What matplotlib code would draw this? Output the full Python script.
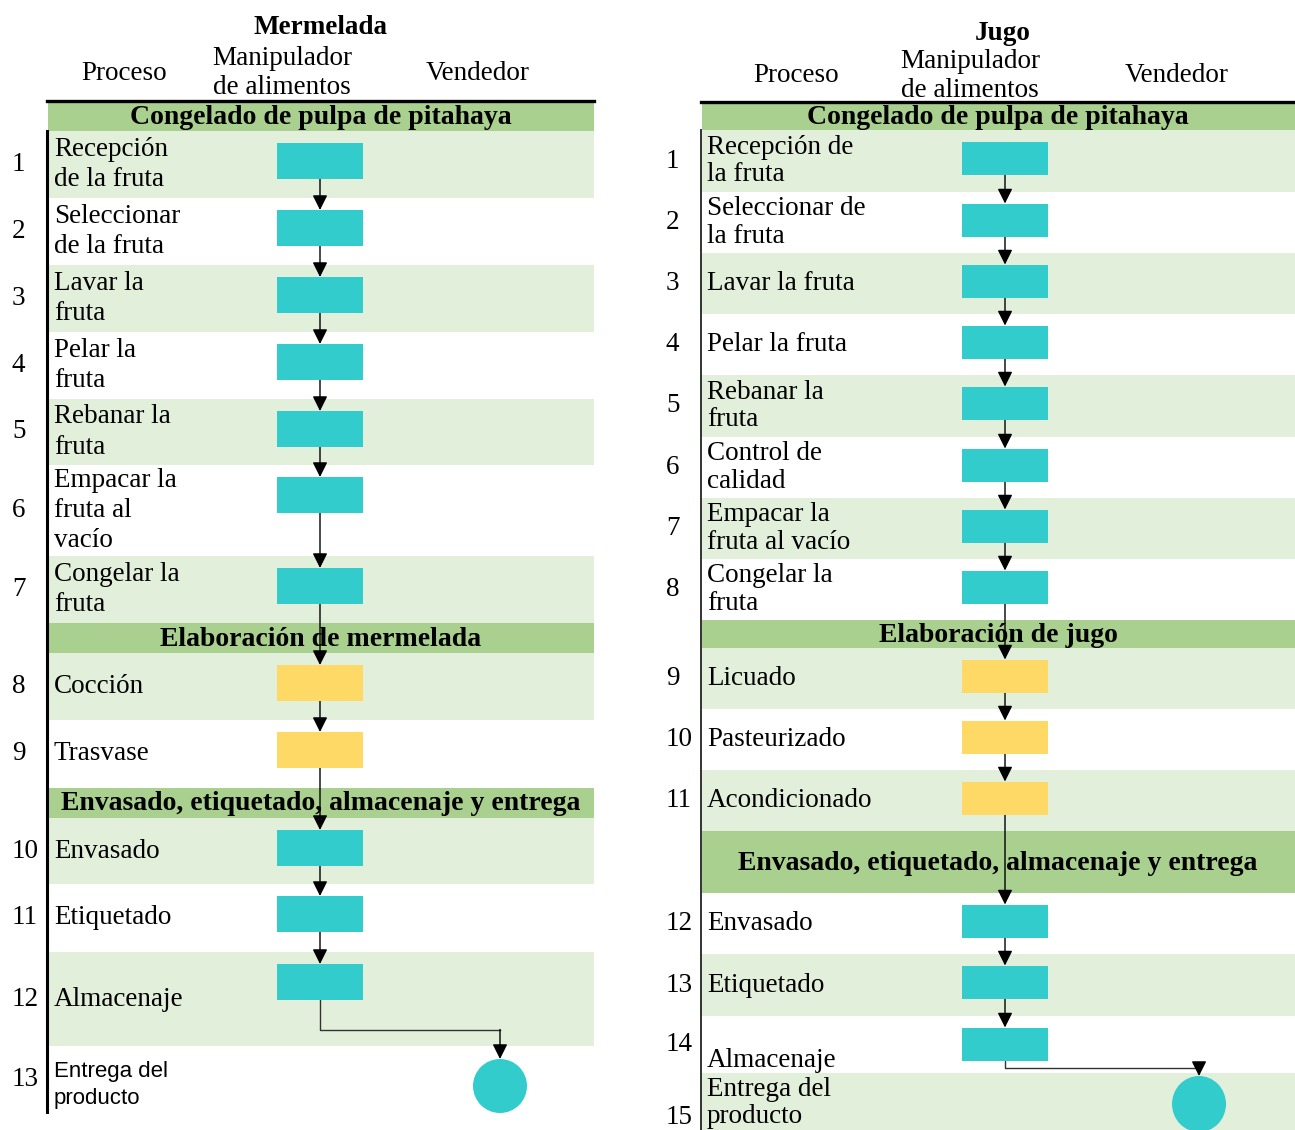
import matplotlib
matplotlib.use("Agg")
import matplotlib.pyplot as plt
from matplotlib.patches import Rectangle, Ellipse

# ---- datos ----
merm_title = "Mermelada"
merm_phases = ["Congelado de pulpa de pitahaya",
               "Elaboración de mermelada",
               "Envasado, etiquetado, almacenaje y entrega"]
merm_steps = ["Recepción\nde la fruta", "Seleccionar\nde la fruta", "Lavar la\nfruta",
              "Pelar la\nfruta", "Rebanar la\nfruta", "Empacar la\nfruta al\nvacío",
              "Congelar la\nfruta", "Cocción", "Trasvase", "Envasado", "Etiquetado",
              "Almacenaje", "Entrega del\nproducto"]
merm_phase = [0, 0, 0, 0, 0, 0, 0, 1, 1, 2, 2, 2, 2]
merm_actor = ["Manipulador"] * 12 + ["Vendedor"]

jugo_title = "Jugo"
jugo_phases = ["Congelado de pulpa de pitahaya",
               "Elaboración de jugo",
               "Envasado, etiquetado, almacenaje y entrega"]
jugo_steps = ["Recepción de\nla fruta", "Seleccionar de\nla fruta", "Lavar la fruta",
              "Pelar la fruta", "Rebanar la\nfruta", "Control de\ncalidad",
              "Empacar la\nfruta al vacío", "Congelar la\nfruta", "Licuado",
              "Pasteurizado", "Acondicionado", "Envasado", "Etiquetado",
              "Almacenaje", "Entrega del\nproducto"]
jugo_phase = [0] * 8 + [1] * 3 + [2] * 4
jugo_actor = ["Manipulador"] * 14 + ["Vendedor"]

lanes = ["Proceso", "Manipulador\nde alimentos", "Vendedor"]

# ---- estilo / layout ----
BAND = "#A9D08E"
ROW = "#E2EFDA"
BOX = ["#33CCCC", "#FFD966", "#33CCCC"]
SERIF = "Liberation Serif"
SANS = "Liberation Sans"
FS = 19.5
FS_BOLD = 20

left_layout = dict(
    x0=47, x1=594, top=102, sec_h=[29, 30, 30],
    row_h=[67, 67, 67, 67, 66, 91, 67, 67, 68, 66, 68, 94, 66],
    shade=[1, 0, 1, 0, 1, 0, 1, 1, 0, 1, 0, 1, 0],
    lane_x=[124, 282, 478], lane_y=73, title_xy=(320, 27),
    manip_x=320, vend_x=500, box_w=86, box_h=36, box_off=30, circ_off=40,
    circ_w=54, circ_h=54, num_x=12, text_x=54, linesp=1.28,
    text_dy={12: 6}, num_dy={}, sans_rows=[12], axis_lw=2.2, axis_color="black",
)
right_layout = dict(
    x0=701, x1=1295, top=103, sec_h=[27, 28, 62],
    row_h=[62, 61, 61, 61, 62, 61, 61, 61, 61, 61, 61, 61, 62, 57, 60],
    shade=[1, 0, 1, 0, 1, 0, 1, 0, 1, 0, 1, 0, 1, 0, 1],
    lane_x=[796, 970, 1177], lane_y=76, title_xy=(1003, 33),
    manip_x=1005, vend_x=1199, box_w=86, box_h=33, box_off=28, circ_off=31,
    circ_w=54, circ_h=56, num_x=666, text_x=707, linesp=1.14,
    text_dy={13: 16, 14: 0}, num_dy={14: 14}, sans_rows=[], axis_lw=1.4,
    axis_color="#333333",
)

W, H = 1295, 1130
fig = plt.figure(figsize=(W / 100, H / 100), dpi=100)
ax = fig.add_axes([0, 0, 1, 1])
ax.set_xlim(0, W)
ax.set_ylim(H, 0)
ax.axis("off")


def arrow(x, y0, y1):
    ax.annotate("", xy=(x, y1), xytext=(x, y0),
                arrowprops=dict(arrowstyle="-|>,head_length=0.6,head_width=0.3",
                                color="black", lw=1.0, mutation_scale=15,
                                shrinkA=0, shrinkB=0), zorder=4)


def draw_panel(title, steps, phase, actor, phases, L):
    x0, x1 = L["x0"], L["x1"]
    ax.text(*L["title_xy"], title, family=SERIF, weight="bold", fontsize=FS,
            ha="center", va="center")
    for lx, lab in zip(L["lane_x"], lanes):
        ax.text(lx, L["lane_y"], lab, family=SERIF, fontsize=FS, ha="center",
                va="center", linespacing=1.2)
    ax.plot([x0, x1], [L["top"] - 1, L["top"] - 1], color="black", lw=2.4, zorder=5)

    y = L["top"]
    prev = None
    rows = []
    for i, step in enumerate(steps):
        if phase[i] != prev:
            h = L["sec_h"][phase[i]]
            ax.add_patch(Rectangle((x0 + 1, y), x1 - x0 - 1, h, color=BAND, lw=0, zorder=1))
            ax.text((x0 + x1) / 2, y + h / 2 + 1, phases[phase[i]], family=SERIF,
                    weight="bold", fontsize=FS_BOLD, ha="center", va="center", zorder=2)
            y += h
            prev = phase[i]
        h = L["row_h"][i]
        if L["shade"][i]:
            ax.add_patch(Rectangle((x0 + 1, y), x1 - x0 - 1, h, color=ROW, lw=0, zorder=0))
        rows.append((y, y + h))
        y += h

    ax.plot([x0, x0], [L["top"] + L["sec_h"][0], min(y, H)], color=L["axis_color"],
            lw=L["axis_lw"], zorder=5)

    shapes = []
    for i, (t, b) in enumerate(rows):
        mid = (t + b) / 2
        fam = SANS if i in L["sans_rows"] else SERIF
        ax.text(L["text_x"], mid + L["text_dy"].get(i, 0), steps[i], family=fam,
                fontsize=16 if fam == SANS else FS, ha="left", va="center",
                linespacing=L["linesp"] if fam == SERIF else 1.4, zorder=3)
        ax.text(L["num_x"], mid + L["num_dy"].get(i, 0), str(i + 1), family=SERIF,
                fontsize=FS, ha="left", va="center", zorder=3)
        if actor[i] == "Vendedor":
            cy = t + L["circ_off"]
            ax.add_patch(Ellipse((L["vend_x"], cy), L["circ_w"], L["circ_h"],
                                 color=BOX[phase[i]], lw=0, zorder=6))
            shapes.append(("c", L["vend_x"], cy - L["circ_h"] / 2, cy + L["circ_h"] / 2))
        else:
            cy = t + L["box_off"]
            ax.add_patch(Rectangle((L["manip_x"] - L["box_w"] / 2, cy - L["box_h"] / 2),
                                   L["box_w"], L["box_h"], color=BOX[phase[i]], lw=0,
                                   zorder=6))
            shapes.append(("r", L["manip_x"], cy - L["box_h"] / 2, cy + L["box_h"] / 2))

    for a, b in zip(shapes[:-1], shapes[1:]):
        if a[1] == b[1]:
            arrow(a[1], a[3], b[2])
        else:
            ym = (a[3] + b[2]) / 2
            ax.plot([a[1], a[1], b[1]], [a[3], ym, ym], color="#333333", lw=1.0, zorder=4)
            arrow(b[1], ym, b[2])


draw_panel(merm_title, merm_steps, merm_phase, merm_actor, merm_phases, left_layout)
draw_panel(jugo_title, jugo_steps, jugo_phase, jugo_actor, jugo_phases, right_layout)

fig.savefig("out.png", dpi=100)
